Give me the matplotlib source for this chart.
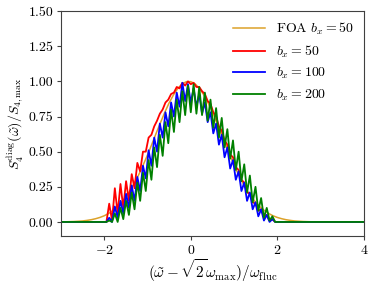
import numpy as np
import matplotlib
matplotlib.use("Agg")
import matplotlib.pyplot as plt

plt.rcParams["font.family"] = "serif"
plt.rcParams["font.serif"] = ["cmr10", "DejaVu Serif"]
plt.rcParams["mathtext.fontset"] = "cm"
plt.rcParams["axes.formatter.use_mathtext"] = True

# first order approximation, sampled every 0.1 from -3 to 4
x_foa = np.round(np.arange(71) * 0.1 - 3.0, 2)
y_foa = [0.001, 0.001, 0.002, 0.003, 0.005, 0.007, 0.011, 0.016, 0.023, 0.032,
         0.044, 0.060, 0.081, 0.107, 0.140, 0.178, 0.224, 0.278, 0.338, 0.405,
         0.477, 0.553, 0.631, 0.707, 0.780, 0.847, 0.904, 0.950, 0.982, 0.998,
         0.998, 0.982, 0.950, 0.904, 0.847, 0.780, 0.707, 0.631, 0.553, 0.477,
         0.405, 0.338, 0.278, 0.224, 0.178, 0.140, 0.107, 0.081, 0.060, 0.044,
         0.032, 0.023, 0.016, 0.011, 0.007, 0.005, 0.003, 0.002, 0.001, 0.001,
         0, 0, 0, 0, 0, 0, 0, 0, 0, 0, 0]

# numerical spectra, sampled every 0.065 from -1.95 to 1.95, zero outside
x_num = np.concatenate([[-3.0], np.round(np.arange(61) * 0.065 - 1.95, 3), [4.0]])
y_b50 = [0,
         0.0, 0.13, 0.01, 0.24, 0.06, 0.27, 0.10, 0.29, 0.15, 0.34,
         0.24, 0.42, 0.36, 0.50, 0.50, 0.60, 0.62, 0.68, 0.72, 0.77,
         0.80, 0.85, 0.87, 0.91, 0.92, 0.96, 0.95, 0.99, 0.97, 1.00,
         0.98, 0.99, 0.96, 0.96, 0.93, 0.91, 0.86, 0.84, 0.78, 0.75,
         0.68, 0.65, 0.58, 0.55, 0.48, 0.46, 0.39, 0.37, 0.30, 0.28,
         0.21, 0.20, 0.14, 0.13, 0.08, 0.09, 0.04, 0.05, 0.01, 0.02,
         0.0,
         0]
y_b100 = [0,
          0.0, 0.03, 0.0, 0.11, 0.03, 0.15, 0.06, 0.20, 0.10, 0.26,
          0.15, 0.32, 0.22, 0.40, 0.31, 0.51, 0.40, 0.60, 0.50, 0.70,
          0.60, 0.78, 0.68, 0.85, 0.75, 0.92, 0.82, 0.99, 0.86, 0.98,
          0.85, 0.95, 0.82, 0.91, 0.77, 0.85, 0.71, 0.78, 0.63, 0.70,
          0.55, 0.62, 0.46, 0.53, 0.38, 0.44, 0.30, 0.36, 0.22, 0.28,
          0.15, 0.21, 0.09, 0.14, 0.04, 0.09, 0.01, 0.05, 0.0, 0.02,
          0.0,
          0]
y_b200 = [0,
          0.0, 0.01, 0.0, 0.06, 0.0, 0.10, 0.02, 0.15, 0.05, 0.21,
          0.09, 0.28, 0.15, 0.35, 0.22, 0.44, 0.30, 0.53, 0.39, 0.62,
          0.47, 0.71, 0.56, 0.80, 0.64, 0.87, 0.71, 0.93, 0.76, 0.97,
          0.78, 0.98, 0.77, 0.96, 0.76, 0.92, 0.72, 0.87, 0.67, 0.81,
          0.60, 0.74, 0.53, 0.66, 0.45, 0.58, 0.37, 0.50, 0.29, 0.41,
          0.21, 0.33, 0.14, 0.25, 0.08, 0.17, 0.03, 0.10, 0.01, 0.04,
          0.0,
          0]

fig = plt.figure(figsize=(3.74, 2.84), dpi=100)
ax = fig.add_axes([0.163, 0.169, 0.81, 0.792])

ax.plot(x_foa, y_foa, color="#dca22a", lw=1.1, label=r"FOA $b_x = 50$")
ax.plot(x_num, y_b50, color="red", lw=1.3, label=r"$b_x = 50$")
ax.plot(x_num, y_b100, color="blue", lw=1.3, label=r"$b_x = 100$")
ax.plot(x_num, y_b200, color="green", lw=1.3, label=r"$b_x = 200$")

ax.set_xlim(-3, 4)
ax.set_ylim(-0.1, 1.5)
ax.set_xticks([-2, 0, 2, 4])
ax.set_yticks([0, 0.25, 0.5, 0.75, 1.0, 1.25, 1.5])
ax.set_yticklabels(["0.00", "0.25", "0.50", "0.75", "1.00", "1.25", "1.50"])
ax.tick_params(labelsize=10, length=3, pad=2.5, color="0.25")
for s in ax.spines.values():
    s.set_color("0.25")

ax.set_xlabel(r"$(\tilde{\omega}-\sqrt{2}\omega_{\rm max})/\omega_{\rm fluc}$", fontsize=11, labelpad=0)
ax.set_ylabel(r"$S_4^{\rm diag}(\tilde{\omega})/S_{4,\rm max}$", fontsize=10, labelpad=2)
ax.legend(loc="upper right", frameon=False, fontsize=10, handlelength=2.3,
          labelspacing=0.45, borderaxespad=0.3)

fig.savefig("out.png", dpi=100)
